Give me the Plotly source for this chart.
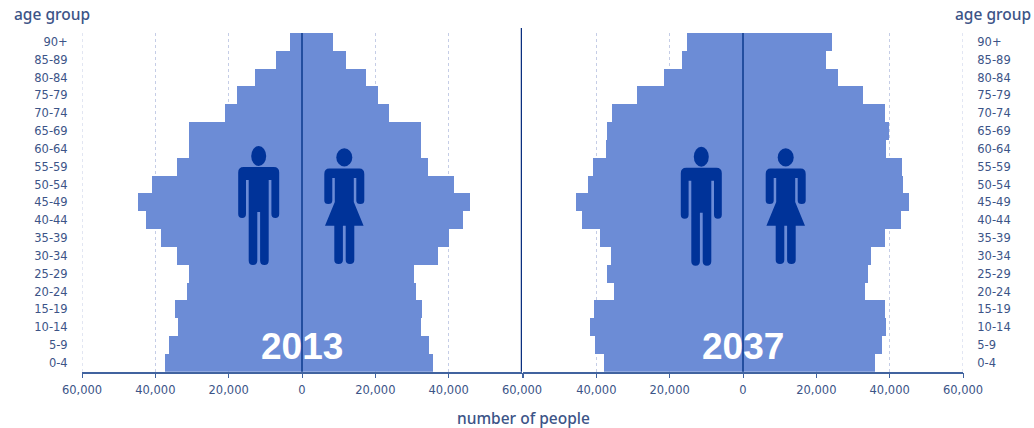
import plotly.graph_objects as go

ages = ["0-4","5-9","10-14","15-19","20-24","25-29","30-34","35-39","40-44","45-49","50-54","55-59","60-64","65-69","70-74","75-79","80-84","85-89","90+"]
male_2013 = [37.5,36.3,33.8,34.7,31.4,30.7,34.2,38.4,42.6,44.7,41.0,34.1,30.7,30.7,20.9,17.6,12.7,7.2,3.4]
female_2013 = [35.8,34.6,32.4,32.7,31.2,30.6,37.0,40.0,44.0,45.9,41.5,34.3,32.4,32.4,23.8,20.8,17.5,12.0,8.4]
male_2037 = [37.8,40.3,41.8,40.7,35.1,37.2,36.0,39.0,43.9,45.5,42.4,41.0,37.5,37.2,35.6,28.9,21.5,16.7,15.2]
female_2037 = [36.0,38.0,39.1,38.8,33.3,34.2,34.8,38.8,43.2,45.3,43.7,43.4,39.0,39.8,38.8,32.8,26.0,22.6,24.2]
x_ticks = [-60000,-40000,-20000,0,20000,40000,60000]
x_labels = ["60,000","40,000","20,000","0","20,000","40,000","60,000"]

W, H = 1034, 428
BAR = "#6c8cd6"; DARK = "#0b3a8c"; ICON = "#003399"; TXT = "#3c5487"; AXIS = "#41639f"; GRID = "#c5cde6"
FONT = "DejaVu Sans"
TOP, BOT = 33, 371.7

def px(x): return x / W
def py(y): return 1 - y / H

fig = go.Figure()
for vals, sign, ax in [(male_2013,-1,"1"),(female_2013,1,"1"),(male_2037,-1,"2"),(female_2037,1,"2")]:
    fig.add_trace(go.Bar(y=ages, x=[sign*v*1000 for v in vals], orientation="h", marker=dict(color=BAR, line_width=0),
                         xaxis="x" if ax=="1" else "x2", yaxis="y" if ax=="1" else "y2", showlegend=False))

xcommon = dict(range=[-60000,60000], tickmode="array", showgrid=True, griddash="3px,3px", gridcolor=GRID, gridwidth=1,
               zeroline=False, showline=True, linecolor=AXIS, linewidth=1.5, ticks="outside", ticklen=5, tickcolor=AXIS, tickwidth=1,
               ticklabelstandoff=2, tickfont=dict(family=FONT, size=11.5, color=TXT), fixedrange=True)
ycommon = dict(type="category", categoryorder="array", categoryarray=ages, range=[-0.5,18.5], showgrid=False, zeroline=False,
               showline=False, ticks="outside", ticklen=11, tickcolor="rgba(0,0,0,0)", tickfont=dict(family=FONT, size=11.5, color=TXT), fixedrange=True)

shapes = []
for xr, edge in [("x",-60000),("x2",60000)]:
    shapes.append(dict(type="line", xref=xr, yref="paper", x0=edge, x1=edge, y0=py(TOP), y1=py(BOT), line=dict(color=GRID, width=1, dash="3px,3px"), layer="below"))
for xr in ["x","x2"]:
    shapes.append(dict(type="line", xref=xr, yref="paper", x0=0, x1=0, y0=py(TOP), y1=py(BOT), line=dict(color=DARK, width=1.5), layer="above"))
shapes.append(dict(type="line", xref="x", yref="paper", x0=60000, x1=60000, y0=py(28), y1=py(BOT), line=dict(color="#0a2f7f", width=2.5), layer="above"))

def P(a, b): return f"{px(a):.5f},{py(b):.5f}"
def filled(path):
    return dict(type="path", xref="paper", yref="paper", path=path, fillcolor=ICON, line=dict(color=ICON, width=0), layer="above")
def head(c, y0, y1, rx):
    return dict(type="circle", xref="paper", yref="paper", x0=px(c-rx), x1=px(c+rx), y0=py(y0), y1=py(y1), fillcolor=ICON, line=dict(color=ICON,width=0), layer="above")

def man(c, dy=0.0):
    y = lambda v: v + dy
    s = "M " + P(c-15, y(167)) + " L " + P(c+15, y(167))
    s += " Q " + P(c+20.5, y(167)) + " " + P(c+20.5, y(172.5))
    s += " L " + P(c+20.5, y(214)) + " Q " + P(c+20.5, y(218)) + " " + P(c+16.6, y(218)) + " Q " + P(c+12.7, y(218)) + " " + P(c+12.7, y(214))
    s += " L " + P(c+12.7, y(180)) + " L " + P(c+10, y(180))
    s += " L " + P(c+10, y(260.5)) + " Q " + P(c+10, y(265)) + " " + P(c+5.7, y(265)) + " Q " + P(c+1.4, y(265)) + " " + P(c+1.4, y(260.5))
    s += " L " + P(c+1.4, y(212)) + " L " + P(c-1.4, y(212))
    s += " L " + P(c-1.4, y(260.5)) + " Q " + P(c-1.4, y(265)) + " " + P(c-5.7, y(265)) + " Q " + P(c-10, y(265)) + " " + P(c-10, y(260.5))
    s += " L " + P(c-10, y(180)) + " L " + P(c-12.7, y(180))
    s += " L " + P(c-12.7, y(214)) + " Q " + P(c-12.7, y(218)) + " " + P(c-16.6, y(218)) + " Q " + P(c-20.5, y(218)) + " " + P(c-20.5, y(214))
    s += " L " + P(c-20.5, y(172.5)) + " Q " + P(c-20.5, y(167)) + " " + P(c-15, y(167)) + " Z"
    return [head(c, y(146), y(166), 7.5), filled(s)]

def woman(c, dy=0.0):
    y = lambda v: v + dy
    s = "M " + P(c-15, y(168.5)) + " L " + P(c+15, y(168.5))
    s += " Q " + P(c+20, y(168.5)) + " " + P(c+20, y(174))
    s += " L " + P(c+20, y(200.5)) + " Q " + P(c+20, y(204)) + " " + P(c+16, y(204)) + " Q " + P(c+12, y(204)) + " " + P(c+12, y(200.5))
    s += " L " + P(c+12, y(178)) + " L " + P(c+9.5, y(178)) + " L " + P(c+9.5, y(202))
    s += " L " + P(c+19.3, y(225.7)) + " L " + P(c+10, y(225.7))
    s += " L " + P(c+10, y(260)) + " Q " + P(c+10, y(264)) + " " + P(c+5.7, y(264)) + " Q " + P(c+1.4, y(264)) + " " + P(c+1.4, y(260))
    s += " L " + P(c+1.4, y(225.7)) + " L " + P(c-1.4, y(225.7))
    s += " L " + P(c-1.4, y(260)) + " Q " + P(c-1.4, y(264)) + " " + P(c-5.7, y(264)) + " Q " + P(c-10, y(264)) + " " + P(c-10, y(260))
    s += " L " + P(c-10, y(225.7)) + " L " + P(c-19.3, y(225.7)) + " L " + P(c-9.5, y(202)) + " L " + P(c-9.5, y(178)) + " L " + P(c-12, y(178))
    s += " L " + P(c-12, y(200.5)) + " Q " + P(c-12, y(204)) + " " + P(c-16, y(204)) + " Q " + P(c-20, y(204)) + " " + P(c-20, y(200.5))
    s += " L " + P(c-20, y(174)) + " Q " + P(c-20, y(168.5)) + " " + P(c-15, y(168.5)) + " Z"
    return [head(c, y(148.3), y(166.5), 8), filled(s)]

shapes += man(258.7) + woman(344.3) + man(701.3, 0.7) + woman(785.7)

def txt(x,y,s,size,color=TXT,family=FONT,anchor="center",weight=None):
    return dict(xref="paper", yref="paper", x=px(x), y=py(y), text=s, showarrow=False, xanchor=anchor, yanchor="middle",
                font=dict(family=family,size=size,color=color,weight=weight))
ann = [txt(52,14,"age group",15.5,family="Noto Sans",weight=500),txt(993,14,"age group",15.5,family="Noto Sans",weight=500),
       txt(523.5,418,"number of people",15.5,family="Noto Sans",weight=500),
       txt(301.5,346,"2013",37,"#ffffff","Liberation Sans",weight="bold"),txt(742.5,346,"2037",37,"#ffffff","Liberation Sans",weight="bold")]

fig.update_layout(width=W, height=H, margin=dict(l=0,r=0,t=0,b=0,autoexpand=False), paper_bgcolor="white", plot_bgcolor="rgba(0,0,0,0)",
    barmode="overlay", bargap=0, shapes=shapes, annotations=ann,
    xaxis=dict(xcommon, domain=[px(82),px(522)], anchor="y", tickvals=x_ticks, ticktext=x_labels),
    yaxis=dict(ycommon, domain=[py(BOT),py(TOP)], anchor="x"),
    xaxis2=dict(xcommon, domain=[px(523),px(963)], anchor="y2", tickvals=x_ticks, ticktext=[""]+x_labels[1:]),
    yaxis2=dict(ycommon, domain=[py(BOT),py(TOP)], anchor="x2", side="right"))
fig.write_html("out.html", config={"displayModeBar": False}, post_script="document.body.style.margin='0';document.body.style.overflow='hidden';")
